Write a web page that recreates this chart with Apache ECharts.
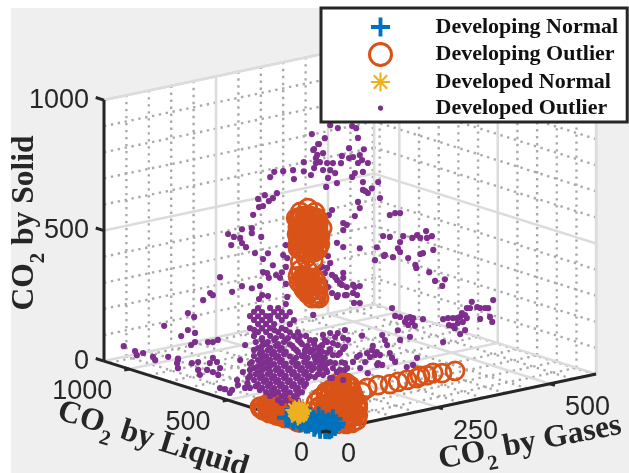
<!DOCTYPE html>
<html><head><meta charset="utf-8">
<style>html,body{margin:0;padding:0;background:#fff}#c{width:629px;height:473px}</style>
<script src="https://cdn.jsdelivr.net/npm/echarts@6/dist/echarts.min.js"></script></head>
<body><div id="c"></div>
<script>
// Each point: [CO2 by Gases, CO2 by Liquid, CO2 by Solid]
const developedOutlier = [
[1,1030,80],[13,1000,64],[17,1000,47],[31,1000,50],[53,1000,27],[58,1000,13],[87,1000,15],[109,1000,0],
[19,800,63],[21,800,43],[21,800,74],[52,800,51],[66,800,50],[66,800,20],[70,800,0],[131,1000,167],[145,1000,147],[78,1000,137],
[131,1000,102],[147,1000,85],[116,1000,84],[138,1000,42],[147,1000,50],[165,1000,204],[86,800,13],[88,800,119],[99,800,115],[110,800,119],
[92,800,37],[99,800,54],[108,800,35],[99,800,0],[23,600,64],[27,600,89],[27,600,12],[38,600,4],[10,500,35],[5,500,25],[65,600,29],[23,500,49],[39,500,32],[44,500,49],
[232,600,911],[246,600,868],[237,600,852],[244,600,827],[241,600,797],[214,600,810],[214,600,775],[237,600,779],[230,600,755],[190,600,788],[192,600,753],[168,600,792],[148,600,797],[139,600,780],
[154,600,713],[145,600,697],[127,600,715],[136,600,689],[112,600,706],[123,600,675],[114,600,674],[101,600,649],[98,600,599],[98,600,580],[76,600,603],[45,600,596],[58,600,580],[72,600,571],[76,600,550],[85,600,531],[52,600,551],[119,600,558],
[174,600,507],[105,600,501],[134,600,490],[123,600,472],[145,600,440],[168,600,471],[177,600,456],[123,600,422],[132,600,415],[152,600,400],[165,600,406],[174,600,423],[161,600,386],[136,600,395],[27,600,437],[98,600,369],[76,600,385],[116,600,371],[54,600,371],[5,600,384],[11,600,374],[121,600,334],[134,600,326],[114,600,322],[177,600,307],[174,600,358],
[268,600,431],[273,600,402],[255,600,394],[266,600,386],[261,600,368],[277,600,355],[288,600,332],[295,600,317],[302,600,335],[310,600,297],[328,600,290],[339,600,290],[324,600,269],[333,600,258],[310,600,266],[288,600,267],[277,600,286],[268,600,312],[326,600,230],[339,600,225],[250,600,391],[284,600,344],[302,600,354],[290,600,273],[261,600,333],[257,600,255],[235,600,217],[306,600,267],[299,600,309],[324,600,300],
[264,600,697],[288,600,703],[346,600,686],[380,600,674],[346,600,656],[366,600,655],[357,600,640],[384,600,611],[335,600,614],[339,600,589],[277,600,604],[270,600,587],[328,600,562],[302,600,545],[310,600,535],[302,600,518],[406,600,538],[418,600,541],[429,600,537],[391,600,463],[406,600,454],[288,600,474],[302,600,453],[339,600,435],[377,600,425],[424,600,404],[395,600,389],[413,600,374],[373,600,377],
[273,600,930],[290,600,913],[322,600,909],[331,600,898],[335,600,859],[315,600,827],[348,600,811],[261,600,885],[248,600,867],[235,600,849],[257,600,829],[241,600,816],[250,600,797],[266,600,788],[279,600,783],[297,600,776],[299,600,803],[315,600,789],[324,600,790],[339,600,792],[344,600,771],[357,600,755],[335,600,763],[257,600,764],[273,600,758],[284,600,743],[268,600,730],[328,600,727],[322,600,714],[346,600,725],[351,600,650],
[436,600,446],[456,600,432],[467,600,439],[487,600,447],[500,600,423],[489,600,420],[474,600,426],[393,600,386],[429,600,388],[447,600,358],[429,600,426],[474,600,364],[480,600,365],[463,600,326],[465,600,314],[494,600,287],[507,600,249],[529,600,247],[523,600,224],[503,600,369],
[578,600,119],[589,600,139],[585,600,117],[601,600,115],[388,100,307],[399,100,303],[406,100,300],[417,100,327],[388,100,265],[410,100,265],[415,100,244],[567,600,104],[574,600,94],[563,600,90],[556,600,89],[547,600,92],[536,600,96],[525,600,96],[578,600,81],[569,600,69],[558,600,69],[547,600,62],[538,600,68],[574,600,36],[563,600,25],[551,600,52],[525,600,8],
[411,600,180],[418,600,147],[429,600,139],[444,600,129],[451,600,131],[458,600,124],[440,600,116],[447,600,102],[456,600,110],[462,600,93],[480,600,112],[424,600,90],[451,600,55],[429,600,51],
[389,600,84],[395,600,63],[400,600,42],[406,600,9],[323,400,68],[368,600,50],[366,600,35],[377,600,23],[384,600,10],[355,600,27],[339,600,26],[333,600,21],[274,400,89],[285,400,93],[292,400,59],[301,400,49],[330,400,50],[344,600,98],[290,400,53],[263,400,74],[236,400,84],[223,400,65],[252,400,55],[269,400,29],[214,400,23],[379,400,48],[370,400,24],[356,400,21],
[169,400,212],[185,400,213],[196,400,194],[178,400,182],[162,400,168],[147,400,162],[191,400,173],[214,400,184],[202,400,161],[218,400,148],[207,400,129],[191,400,127],[178,400,140],[162,400,137],[151,400,130],[167,400,109],[180,400,100],[196,400,94],[147,400,97],[162,400,80],[178,400,67],[191,400,77],[211,400,92],[218,400,86],[151,400,57],[169,400,58],
[86,400,360],[24,400,367],[51,400,358],[69,400,351],[15,400,356],[33,400,349],[60,400,339],[77,400,333],[95,400,326],[6,400,343],[24,400,336],[42,400,330],[69,400,320],[86,400,314],[15,400,325],[33,400,318],[51,400,312],[77,400,302],[104,400,292],[24,400,306],[42,400,300],[60,400,293],[95,400,280],[6,400,297],[33,400,287],[51,400,281],[77,400,271],[24,400,275],[42,400,269],[69,400,259],[95,400,249],[113,400,243],[15,400,264],[51,400,251],[77,400,241],[104,400,231],[131,400,222],[33,400,242],[60,400,232],[86,400,223],[113,400,213],[140,400,203],[42,400,223],[69,400,213],[95,400,203],[122,400,194],[149,400,184],[24,400,214],[51,400,205],[77,400,195],[104,400,185],[131,400,176],[158,400,166],[33,400,196],[60,400,186],[86,400,177],[113,400,167],[140,400,157],[167,400,148],[15,400,187],[42,400,177],[69,400,167],[95,400,157],[122,400,148],[149,400,138],[24,400,168],[51,400,159],[77,400,149],[104,400,139],[131,400,130],[158,400,120],[6,400,160],[33,400,150],[60,400,140],[86,400,131],[113,400,121],[140,400,111],[167,400,102],[15,400,141],[42,400,131],[69,400,121],[95,400,111],[122,400,102],[149,400,92],[24,400,122],[51,400,113],[77,400,103],[104,400,93],[131,400,84],[6,400,114],[33,400,104],[60,400,94],[86,400,85],[113,400,75],[140,400,65],[15,400,95],[42,400,85],[69,400,75],[95,400,65],[122,400,56],[24,400,76],[51,400,67],[77,400,57],[104,400,47],[131,400,38],[6,400,68],[33,400,58],[60,400,48],[86,400,39],[113,400,29],[42,400,39],[69,400,29],[95,400,19],[122,400,10],[51,400,21],[77,400,11],[104,400,1],[25,300,38],[42,300,32],[69,300,22],[51,300,14],[33,300,24],
[19,400,239],[46,400,229],[82,400,216],[118,400,203],[33,400,219],[64,400,208],[100,400,195],[135,400,182],[167,400,171],[15,400,210],[46,400,198],[73,400,189],[109,400,176],[144,400,163],[185,400,148],[28,400,190],[55,400,180],[82,400,170],[127,400,154],[158,400,143],[33,400,173],[64,400,162],[109,400,146],[135,400,136],[171,400,123],[10,400,165],[42,400,154],[73,400,143],[100,400,133],[127,400,123],[153,400,114],[185,400,102],[24,400,145],[51,400,136],[82,400,124],[109,400,115],[135,400,105],[162,400,95],[6,400,137],[33,400,127],[64,400,116],[91,400,106],[118,400,96],[176,400,75],[207,400,64],[19,400,116],[46,400,106],[73,400,97],[100,400,87],[127,400,77],[158,400,66],[2,400,107],[28,400,98],[55,400,88],[82,400,78],[109,400,69],[135,400,59],[189,400,40],[37,400,80],[64,400,70],[91,400,60],[118,400,50],[19,400,70],[46,400,60],[73,400,51],[100,400,41],[127,400,31],[28,400,52],[55,400,42],[82,400,32],[109,400,23],[60,400,25],[86,400,16],[113,400,6],[51,400,327],[15,400,287],[60,400,270],[86,400,261],[33,400,249],[64,400,238],[91,400,228],
[173,400,191],[185,400,152],[202,400,123],[214,400,142],[173,400,87],[200,400,59],[185,400,41],[218,400,60],[167,400,174],[151,400,199],[129,400,168],[144,400,87],[173,400,122],[202,400,207],[225,400,173],[218,400,213],[118,400,226],[72,600,103],[83,600,157],[78,600,55]
];
const developingOutlierFloor = [
[5,330,0],[0,320,5],[8,310,0],[2,300,8],[0,290,0],[6,280,10],[3,270,0],[9,260,6],[0,250,0],[5,240,12],[2,230,0],[8,220,8],[0,210,0],[4,200,10],[10,190,0],[0,180,5],[6,170,12],[3,160,0],[10,150,6],[0,140,0],[5,130,8],
[12,325,22],[10,300,30],[14,275,28],[12,250,34],[16,225,30],[12,200,36],[16,175,30],[14,150,28],[0,335,14],[0,160,20],
[4,335,12],[6,315,18],[5,295,14],[7,285,24],[4,265,16],[6,255,22],[5,235,18],[7,215,24],[5,195,18],[6,185,26],[5,165,20],[7,145,18],[5,125,16],[3,340,6],[8,245,42],[6,220,44],[9,195,40],[7,270,38],[8,300,38],[5,170,38],[10,120,2],
[288,0,126],[259,0,128],[239,0,136],[225,0,132],[210,0,135],[203,0,129],[181,0,130],[161,0,130],[143,0,128],[116,0,134],[92,0,132],[80,0,120],
[31,0,177],[45,0,168],[54,0,153],[22,0,164],[9,0,154],[38,0,143],[58,0,128],[0,0,138],[25,0,129],[45,0,114],[31,100,92],[13,0,106],[31,0,100],[54,0,88],[67,0,72],[0,0,96],[26,100,55],[22,0,72],[42,0,65],[62,0,50],[71,0,35],[4,0,63],[31,0,46],[54,0,31],[69,0,17],[13,0,33],[42,0,16],[25,0,18],[58,0,10],[35,100,32],[26,100,17],
[36,0,167],[45,0,164],[18,0,159],[36,0,152],[54,0,146],[0,0,149],[18,0,143],[36,0,136],[9,0,131],[36,0,121],[54,0,115],[62,0,111],[0,0,119],[18,0,113],[45,0,103],[62,0,96],[9,0,100],[27,0,93],[45,0,87],[71,0,77],[0,0,88],[36,0,75],[54,0,69],[71,0,62],[18,0,67],[36,0,60],[54,0,54],[0,0,57],[18,0,51],[45,0,41],[62,0,34],[0,0,42],[27,0,32],[45,0,26],[9,0,24],[45,0,11],[22,100,79],[31,100,61],[17,100,43],[35,100,13],[13,100,13]
];
const developingOutlierTower = [
[223,600,631],[206,600,622],[239,600,609],[197,600,602],[217,600,603],[246,600,577],[230,600,575],[201,600,569],[215,600,564],[255,600,543],[199,600,540],[223,600,531],[242,600,517],[206,600,515],[232,600,497],[250,600,483],[217,600,480],[244,600,463],[201,600,485],[223,600,462],[250,600,513],
[210,600,605],[228,600,599],[201,600,593],[219,600,587],[237,600,580],[210,600,574],[228,600,568],[246,600,561],[201,600,562],[219,600,556],[237,600,549],[210,600,544],[228,600,538],[246,600,531],[201,600,531],[219,600,525],[210,600,513],[228,600,507],[246,600,500],[201,600,501],[219,600,495],[237,600,488],[210,600,482],[228,600,476],[246,600,469],[219,600,464],[237,600,457],
[206,600,599],[223,600,592],[242,600,586],[206,600,568],[223,600,561],[242,600,555],[206,600,538],[232,600,528],[206,600,507],[223,600,500],[242,600,494],[206,600,477],[232,600,467],
[219,600,441],[206,600,431],[235,600,427],
[201,600,378],[215,600,358],[228,600,360],[203,600,354],[219,600,334],[232,600,333],[228,600,307],[237,600,289],[242,600,280],[223,600,347],
[210,600,367],[219,600,364],[237,600,357],[215,600,350],[232,600,344],[242,600,341],[210,600,337],[228,600,331],[242,600,326],[215,600,320],[232,600,314],[246,600,309],[223,600,302],[242,600,296],[232,600,283],[248,600,277],[206,600,400],[223,600,393]
];
const developingNormal = [
[0,165,0],[5,150,5],[0,130,0],[3,110,0],[0,90,5],[8,75,0],[0,60,0],[6,45,5],[0,30,0],[5,15,0],[9,5,0],[12,0,5],[20,0,10],[25,5,18],[15,20,25],[10,40,30],[3,70,25],[2,100,20],[10,60,40],[22,15,35],[18,10,15],[0,190,5],[4,210,0],[8,120,12],[6,95,30],[12,30,12],[15,45,15],[4,140,14],[10,85,14],
[2,150,10],[6,130,6],[5,100,8],[3,80,12],[7,55,14],[4,35,14],[8,20,8],[14,10,0],[10,25,0],[6,65,8],[2,175,10]
];
const developedNormal = [[1,150,37],[8,150,26],[1,160,42],[12,150,37],[3,150,21],[6,150,47],[3,150,32],[5,150,40],[9,150,33],[4,155,30],[7,145,30],[2,155,38],[10,145,40],[6,155,22]];

const gasTicks = [0,250,500], liquidTicks = [0,500,1000], solidTicks = [0,500,1000];
const gasMinor = [50,100,150,200,300,350,400,450,550,600];
const liquidMinor = [100,200,300,400,600,700,800,900,1100];
const solidMinor = [100,200,300,400,600,700,800,900];
const gasMax = 603, liquidMax = 1128, solidMax = 1000;
const names = ['Developing Normal','Developing Outlier','Developed Normal','Developed Outlier'];

const colors = {blue:'#0072BD', orange:'#D95319', yellow:'#EDB120', purple:'#7E2F8E', ink:'#262626'};
// orthographic view of the 3D box
function project(p){ return [326 + .448*p[0] - .1968*p[1], 431 - .0945*p[0] - .062*p[1] - .261*p[2]]; }
const pts = a => a.map(project);

const seg = (a,b) => [a,b];
function wallLines(list){
  const out = [];
  list.forEach(v=>{
    out.push(seg([v,liquidMax,0],[v,liquidMax,solidMax]));
    out.push(seg([v,0,0],[v,liquidMax,0]));
  });
  return out;
}
function liqLines(list){
  const out = [];
  list.forEach(v=>{
    out.push(seg([gasMax,v,0],[gasMax,v,solidMax]));
    out.push(seg([0,v,0],[gasMax,v,0]));
  });
  return out;
}
function solLines(list){
  const out = [];
  list.forEach(v=>{
    out.push(seg([0,liquidMax,v],[gasMax,liquidMax,v]));
    out.push(seg([gasMax,0,v],[gasMax,liquidMax,v]));
  });
  return out;
}
const minorSegs = [...wallLines(gasMinor),...liqLines(liquidMinor),...solLines(solidMinor)];
const majorSegs = [...wallLines(gasTicks),...liqLines(liquidTicks),...solLines(solidTicks),
  seg([0,liquidMax,solidMax],[gasMax,liquidMax,solidMax]),seg([gasMax,liquidMax,0],[gasMax,liquidMax,solidMax]),seg([gasMax,0,0],[gasMax,0,solidMax])];
const axisSegs = [seg([0,liquidMax,0],[0,liquidMax,solidMax]),seg([0,0,0],[0,liquidMax,0]),seg([0,0,0],[gasMax,0,0])];
const tickSegs = [
  ...solidTicks.map(v=>seg([0,liquidMax,v],[0,liquidMax+42,v])),
  ...liquidTicks.map(v=>seg([0,v,0],[-11,v,0])),
  ...gasTicks.map(v=>seg([v,0,0],[v,-25,0]))
];
const walls = [
  [[0,liquidMax,0],[gasMax,liquidMax,0],[gasMax,liquidMax,solidMax],[0,liquidMax,solidMax]],
  [[gasMax,liquidMax,0],[gasMax,0,0],[gasMax,0,solidMax],[gasMax,liquidMax,solidMax]],
  [[0,0,0],[gasMax,0,0],[gasMax,liquidMax,0],[0,liquidMax,0]]
];
function segSeries(list, z, style){
  return {type:'custom', coordinateSystem:'cartesian2d', silent:true, clip:false, z,
    data:list.map(s=>[...project(s[0]),...project(s[1])]),
    renderItem:(params,api)=>{
      const a=api.coord([api.value(0),api.value(1)]), b=api.coord([api.value(2),api.value(3)]);
      return {type:'line',shape:{x1:a[0],y1:a[1],x2:b[0],y2:b[1]},style};
    }};
}
const wallSeries = {type:'custom',coordinateSystem:'cartesian2d',silent:true,clip:false,z:0,
  data:walls.map((w,i)=>[i]),
  renderItem:(params,api)=>({type:'polygon',shape:{points:walls[api.value(0)].map(p=>api.coord(project(p)))},style:{fill:'#fff'}})};

const plusPath='path://M8 0H12V8H20V12H12V20H8V12H0V8H8Z';
const plusIcon='path://M-1.5 -1.5L-1.49 -1.5M21.5 21.5L21.51 21.5M8 0H12V8H20V12H12V20H8V12H0V8H8Z';
const starPath='path://M8.9 0H11.1V7.3L16.2 2.2L17.8 3.8L12.7 8.9H20V11.1H12.7L17.8 16.2L16.2 17.8L11.1 12.7V20H8.9V12.7L3.8 17.8L2.2 16.2L7.3 11.1H0V8.9H7.3L2.2 3.8L3.8 2.2L8.9 7.3Z';
const starIcon='path://M-1.5 -1.5L-1.49 -1.5M21.5 21.5L21.51 21.5M8.9 0H11.1V7.3L16.2 2.2L17.8 3.8L12.7 8.9H20V11.1H12.7L17.8 16.2L16.2 17.8L11.1 12.7V20H8.9V12.7L3.8 17.8L2.2 16.2L7.3 11.1H0V8.9H7.3L2.2 3.8L3.8 2.2L8.9 7.3Z';
const dotPath='path://M0 0L.01 0M100 100L100.01 100M62 50A12 12 0 1 1 61.9 49Z';
const common={type:'scatter',silent:true,emphasis:{disabled:true},clip:false,animation:false};
const ringStyle={color:'rgba(0,0,0,0)',borderColor:colors.orange,borderWidth:2.8,opacity:1};

const sans='"Liberation Sans"', serif='"Liberation Serif"';
function tickText(t,x,y,align){return {type:'text',x,y,z:40,silent:true,style:{text:String(t),fill:colors.ink,font:'27px '+sans,align,verticalAlign:'middle'}};}
function title(str,x,y,rotation){
  return {type:'text',x,y,rotation,z:40,silent:true,style:{text:str,align:'center',verticalAlign:'middle',
    rich:{m:{fontFamily:serif,fontWeight:'bold',fontSize:31.5,fill:colors.ink,lineHeight:48,verticalAlign:'middle'},
          s:{fontFamily:serif,fontWeight:'bold',fontSize:21,fill:colors.ink,lineHeight:14,verticalAlign:'bottom'}}}};
}
const graphics=[
  ...solidTicks.map(v=>{const p=project([0,liquidMax,v]);return tickText(v,p[0]-15,p[1],'right');}),
  ...liquidTicks.map(v=>{const p=project([0,v,0]);return tickText(v,p[0]-17,p[1]+23,'right');}),
  ...gasTicks.map(v=>{const p=project([v,0,0]);return tickText(v,p[0]+15,p[1]+24,'left');}),
  title('{m|CO}{s|2}{m| by Solid}',25,223,Math.PI/2),
  title('{m|CO}{s|2}{m| by Liquid}',153,440,-0.30),
  title('{m|CO}{s|2}{m| by Gases}',530,443,0.19)
];

const chart=echarts.init(document.getElementById('c'),null,{renderer:'canvas'});
chart.setOption({
  animation:false,
  backgroundColor:'#fff',
  grid:{left:11,right:0,top:8,bottom:0,show:true,backgroundColor:'#efefef',borderWidth:0},
  xAxis:{type:'value',min:11,max:629,show:false},
  yAxis:{type:'value',min:8,max:473,inverse:true,show:false},
  legend:{orient:'vertical',left:321,top:8,itemWidth:22,itemHeight:22,itemGap:4,
    padding:[8,9,3,47],backgroundColor:'#fff',borderColor:colors.ink,borderWidth:3,borderRadius:0,z:50,
    selectedMode:false,align:'left',
    textStyle:{fontFamily:serif,fontWeight:'bold',fontSize:22,lineHeight:22,color:'#111',padding:[0,0,0,39]},
    data:[
      {name:names[0],icon:plusIcon},
      {name:names[1],icon:'circle',itemStyle:{borderWidth:3,color:'rgba(0,0,0,0)',borderColor:colors.orange}},
      {name:names[2],icon:starIcon},
      {name:names[3],icon:dotPath}
    ]},
  graphic:{elements:graphics},
  series:[
    wallSeries,
    segSeries(minorSegs,1,{stroke:'#aaaaaa',lineWidth:2.4,lineDash:[2.4,4.6]}),
    segSeries(majorSegs,2,{stroke:'#dcdcdc',lineWidth:2.5}),
    segSeries(axisSegs,3,{stroke:colors.ink,lineWidth:3}),
    {...common,name:names[1],z:4,symbol:'circle',symbolSize:18,itemStyle:ringStyle,data:pts(developingOutlierFloor)},
    {...common,name:names[3],z:5,symbol:'circle',symbolSize:6.2,itemStyle:{color:colors.purple,opacity:1},data:pts(developedOutlier)},
    {...common,name:names[1],z:6,symbol:'circle',symbolSize:18,itemStyle:ringStyle,data:pts(developingOutlierTower)},
    {...common,name:names[0],z:7,symbol:plusPath,symbolSize:19,itemStyle:{color:colors.blue,opacity:1},data:pts(developingNormal)},
    {...common,name:names[2],z:8,symbol:starPath,symbolSize:19,itemStyle:{color:colors.yellow,opacity:1},data:pts(developedNormal)},
    segSeries(tickSegs,9,{stroke:colors.ink,lineWidth:3})
  ]
});
</script></body></html>
